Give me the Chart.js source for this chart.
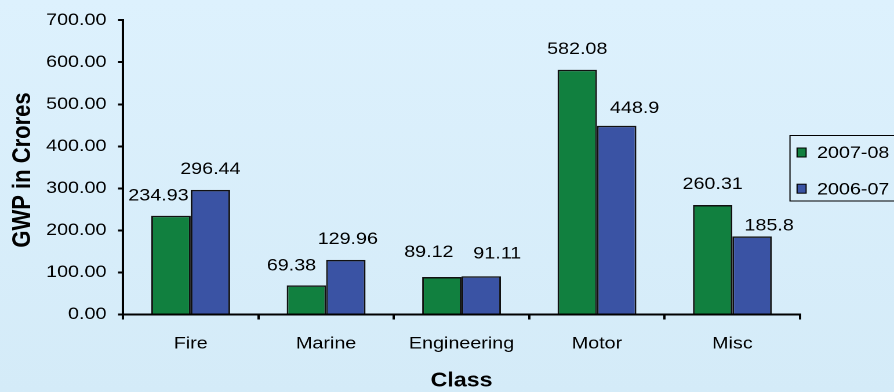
<!DOCTYPE html>
<html>
<head>
<meta charset="utf-8">
<script src="https://cdn.jsdelivr.net/npm/chart.js@4.4.1/dist/chart.umd.min.js"></script>
<style>
  html, body { margin: 0; padding: 0; }
  body { width: 894px; height: 392px; overflow: hidden; background: linear-gradient(#ddf1fd, #d4ebf8); }
  #wrap { position: absolute; left: 0; top: 0; width: 771px; height: 392px; transform: scaleX(1.15953); transform-origin: 0 0; }
</style>
</head>
<body>
<div id="wrap"><canvas id="c"></canvas></div>
<script>
// ---- data ----
const categories = ["Fire", "Marine", "Engineering", "Motor", "Misc"];
const seriesNames = ["2007-08", "2006-07"];
const gwp2007_08 = [234.93, 69.38, 89.12, 582.08, 260.31];
const gwp2006_07 = [296.44, 129.96, 91.11, 448.9, 185.8];
const labels2007_08 = ["234.93", "69.38", "89.12", "582.08", "260.31"];
const labels2006_07 = ["296.44", "129.96", "91.11", "448.9", "185.8"];
const yTicks = [0, 100, 200, 300, 400, 500, 600, 700];
const yTitle = "GWP in Crores";
const xTitle = "Class";

// ---- style ----
const FONT = '"Liberation Sans", Arial, sans-serif';
const colors = ["#11803f", "#3a53a4"];
// label offsets (dx, gap above bar) per series, per category
const labelDx = [[-10.8, -12.9, -11.2, 0, 0], [0, 1.7, 13.8, 15.5, 14.7]];
const labelGap = [[15, 15, 20, 16, 16], [16, 16, 17.6, 13, 6]];

const extras = {
  id: 'extras',
  afterDatasetsDraw(chart) {
    const ctx = chart.ctx;
    const ca = chart.chartArea;
    ctx.save();
    // value labels
    ctx.font = '17px ' + FONT;
    ctx.fillStyle = '#000';
    ctx.textAlign = 'center';
    ctx.textBaseline = 'alphabetic';
    const lbls = [labels2007_08, labels2006_07];
    chart.data.datasets.forEach((ds, i) => {
      const meta = chart.getDatasetMeta(i);
      meta.data.forEach((el, j) => {
        ctx.fillText(lbls[i][j], el.x + labelDx[i][j], el.y - labelGap[i][j]);
      });
    });
    // y title
    ctx.save();
    ctx.font = 'bold 22px ' + FONT;
    ctx.textBaseline = 'middle';
    ctx.translate(19.7, 170);
    ctx.rotate(-Math.PI / 2);
    ctx.fillText(yTitle, 0, 0);
    ctx.restore();
    // x title
    ctx.font = 'bold 20px ' + FONT;
    ctx.textBaseline = 'alphabetic';
    ctx.fillText(xTitle, (ca.left + ca.right) / 2, 386.7);
    // legend
    ctx.lineWidth = 1;
    ctx.strokeStyle = '#000';
    ctx.strokeRect(681.3, 135.5, 120, 65.5);
    ctx.font = '17px ' + FONT;
    ctx.textAlign = 'left';
    ctx.textBaseline = 'middle';
    const rows = [152.5, 188.7];
    chart.data.datasets.forEach((ds, i) => {
      ctx.fillStyle = ds.backgroundColor;
      ctx.fillRect(687.4, rows[i] - 4.5, 7.8, 9);
      ctx.strokeRect(687.4, rows[i] - 4.5, 7.8, 9);
      ctx.fillStyle = '#000';
      ctx.fillText(ds.label, 704.6, rows[i] + 1);
    });
    ctx.restore();
  }
};

new Chart(document.getElementById('c'), {
  type: 'bar',
  data: {
    labels: categories,
    datasets: [
      { label: seriesNames[0], data: gwp2007_08, backgroundColor: colors[0], borderColor: '#111', borderWidth: 1.5 },
      { label: seriesNames[1], data: gwp2006_07, backgroundColor: colors[1], borderColor: '#111', borderWidth: 1.5 }
    ]
  },
  options: {
    responsive: true,
    maintainAspectRatio: false,
    animation: false,
    devicePixelRatio: 2,
    layout: { padding: { left: 0, right: 81, top: 16, bottom: 0 } },
    datasets: { bar: { categoryPercentage: 0.582, barPercentage: 1 } },
    plugins: { legend: { display: false }, tooltip: { enabled: false } },
    scales: {
      x: {
        afterFit(s) { s.height = 77.5; },
        grid: { drawOnChartArea: false, drawTicks: true, tickLength: 5, color: '#000', lineWidth: 2, offset: true },
        border: { display: true, color: '#000', width: 2 },
        ticks: { color: '#000', font: { family: FONT, size: 17 }, padding: 14, maxRotation: 0 }
      },
      y: {
        min: 0, max: 700,
        afterFit(s) { s.width = 106.07; },
        afterBuildTicks(s) { s.ticks = yTicks.map(v => ({ value: v })); },
        grid: { drawOnChartArea: false, drawTicks: true, tickLength: 4.3, color: '#000', lineWidth: 2 },
        border: { display: true, color: '#000', width: 2 },
        ticks: { color: '#000', font: { family: FONT, size: 17 }, padding: 10, callback: v => Number(v).toFixed(2) }
      }
    }
  },
  plugins: [extras]
});
</script>
</body>
</html>
